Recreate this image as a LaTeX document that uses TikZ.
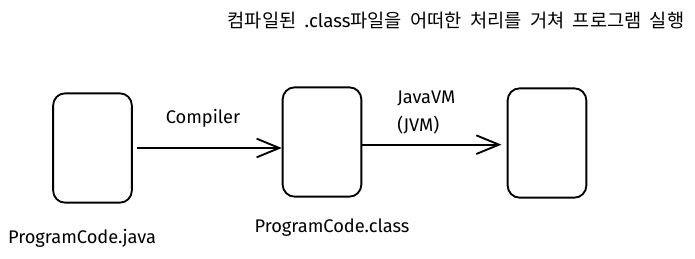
\documentclass[tikz,border=0pt]{standalone}
\usepackage{fontspec}
\setmainfont{Fira Sans}
\newfontfamily\krfont{Noto Sans CJK KR}[WordSpace=2]
\usetikzlibrary{arrows.meta}

\begin{document}
\begin{tikzpicture}[
  x=0.75pt, y=-0.75pt,
  font=\fontsize{13.7}{20.5}\selectfont,
  stage/.style={draw, line width=1.4pt, rounded corners=9pt, minimum width=59pt, minimum height=82pt, fill=white},
  label/.style={align=center, inner sep=0pt},
  arrow/.style={-{Straight Barb[length=17pt,width=14pt,line width=1.4pt]}, line width=1.6pt}
]
\useasboundingbox (0,0) rectangle (695,259);

\node[stage] (java) at (92.5,148) {};
\node[stage] (class) at (322,142) {};
\node[stage] (run) at (547,143) {};

\draw[arrow, shorten <=3pt] (java.east) -- (java.east -| class.west);
\draw[arrow, shorten >=4pt] ([yshift=-2pt]class.east) -- ([yshift=-2pt]class.east -| run.west);

\node[label] (compiler) at (203,118) {Compiler};
\node[label, align=left, anchor=north west] (jvm) at (397,91) {JavaVM\\(JVM)};

\node[label] (javaname) at (82,238) {ProgramCode.java};
\node[label] (classname) at (332,228) {ProgramCode.class};

\node[label] (title) at (456,21)
  {\fontsize{14}{16}\selectfont\krfont 컴파일된 \rmfamily.class\krfont 파일을 어떠한 처리를 거쳐 프로그램 실행};

\end{tikzpicture}
\end{document}
